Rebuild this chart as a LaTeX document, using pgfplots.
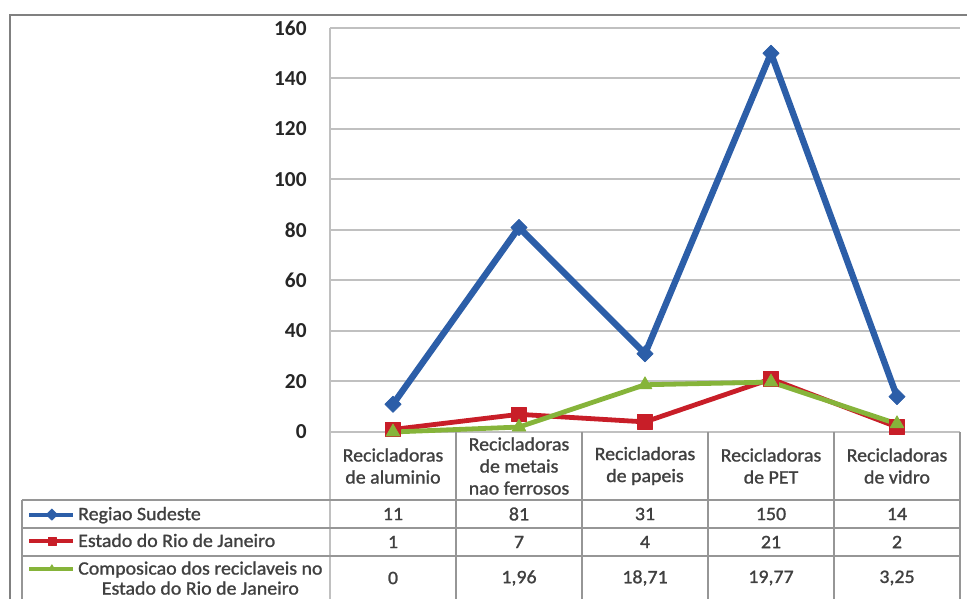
\documentclass[border=0pt]{standalone}
\usepackage{pgfplots}
\pgfplotsset{compat=1.18}
\usepackage{fontspec}
\setmainfont{Carlito}
\newfontfamily\tabfont{Carlito}[FakeBold=1.2, FakeStretch=1.05]
\definecolor{cblue}{RGB}{44,94,168}
\definecolor{cred}{RGB}{200,30,40}
\definecolor{cgreen}{RGB}{134,180,58}
\definecolor{gridc}{RGB}{192,192,192}
\definecolor{tabc}{RGB}{150,150,150}
\definecolor{txt}{RGB}{64,64,64}
\begin{document}
\begin{tikzpicture}
\path[use as bounding box] (-247.5pt,-125.25pt) rectangle (477.75pt,324pt);
\begin{axis}[
  at={(0pt,0pt)}, anchor=south west,
  scale only axis, width=472.5pt, height=303pt,
  xmin=-0.5, xmax=4.5, ymin=0, ymax=160,
  ytick={0,20,...,160},
  xtick={0,...,4},
  xticklabels={{Recicladoras\\de aluminio},{Recicladoras\\de metais\\nao ferrosos},{Recicladoras\\de papeis},{Recicladoras\\de PET},{Recicladoras\\de vidro}},
  xticklabel style={anchor=center, yshift=-25.5pt, align=center, font=\tabfont\fontsize{14.2}{16.5}\selectfont, text=txt},
  yticklabel style={anchor=east, xshift=-14pt, font=\bfseries\fontsize{16}{18}\selectfont, text=black!85},
  /pgf/number format/assume math mode=true,
  major tick length=0pt,
  axis line style={draw=none},
  ymajorgrids, grid style={gridc, line width=1.5pt},
  clip=false,
  legend image code/.code={
    \draw[mark repeat=2,mark phase=2,#1,line width=3pt,mark size=3pt] plot coordinates {(0pt,0pt) (17pt,0pt) (33pt,0pt)};
  },
  legend cell align=left,
  legend style={draw=none, fill=none, at={(-0.481,-0.18)}, anchor=north west, inner sep=0pt, row sep=5.75pt, column sep=0.75pt, font=\tabfont\fontsize{14.2}{16.5}\selectfont, text=txt, nodes={inner sep=1.5pt}},
]
\addplot[cblue, line width=4.8pt, line join=round, mark=square*, mark size=4.3pt, mark options={rotate=45, line width=0.5pt}]
  coordinates {(0,11) (1,81) (2,31) (3,150) (4,14)};
\addlegendentry{Regiao Sudeste}
\addplot[cred, line width=3.6pt, line join=round, mark=square*, mark size=5.5pt, mark options={line width=0.5pt}]
  coordinates {(0,1) (1,7) (2,4) (3,21) (4,2)};
\addlegendentry{Estado do Rio de Janeiro}
\addplot[cgreen, line width=3.6pt, line join=round, mark=triangle*, mark size=6pt, mark options={line width=0.5pt}]
  coordinates {(0,0) (1,1.96) (2,18.71) (3,19.77) (4,3.25)};
\addlegendentry[anchor=base west, yshift=-4.5pt, text height=10.5pt]{\begin{tabular}[t]{@{}c@{}}Composicao dos reciclaveis no\\[-1.5pt]Estado do Rio de Janeiro\end{tabular}}
\end{axis}
\begin{scope}[x=0.75pt,y=0.75pt]
  \draw[gray, line width=0.8pt] (-320,-167) -- (-320,417) -- (640,417);
  \draw[gridc, line width=1.5pt] (0,404) -- (0,-167);
  \foreach \xx in {126,252,378,504,630} \draw[tabc, line width=0.8pt] (\xx,0) -- (\xx,-167);
  \foreach \yy in {-68,-96,-124} \draw[tabc, line width=0.8pt] (-308,\yy) -- (630,\yy);
  \draw[tabc, line width=0.8pt] (-308,-68) -- (-308,-167);
  \begin{scope}[every node/.style={font=\tabfont\fontsize{14.2}{16.5}\selectfont, text=txt}]
  \foreach \v [count=\i from 0] in {11,81,31,150,14} \node at (63+126*\i,-82) {\v};
  \foreach \v [count=\i from 0] in {1,7,4,21,2} \node at (63+126*\i,-110) {\v};
  \foreach \v [count=\i from 0] in {0,{1,96},{18,71},{19,77},{3,25}} \node at (63+126*\i,-146) {\v};
  \end{scope}
\end{scope}
\end{tikzpicture}
\end{document}
